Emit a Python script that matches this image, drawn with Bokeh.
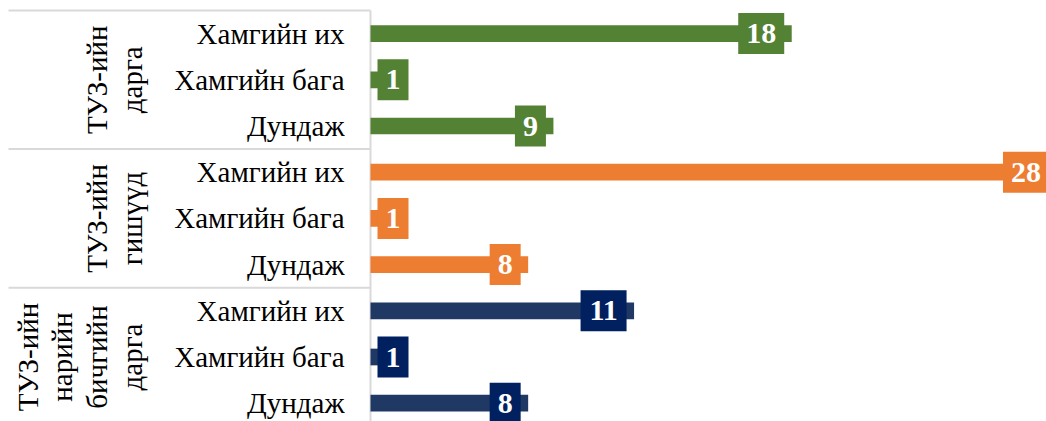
import math
from bokeh.plotting import figure
from bokeh.models import Range1d
from bokeh.embed import file_html
from bokeh.resources import INLINE
from bokeh.core.properties import value

# ---- data ----
categories = ["Хамгийн их", "Хамгийн бага", "Дундаж"]
group_lines = [
    ["ТУЗ-ийн", "дарга"],
    ["ТУЗ-ийн", "гишүүд"],
    ["ТУЗ-ийн", "нарийн", "бичгийн", "дарга"],
]
# bar lengths as drawn, and the numbers printed on the bars
chair_lengths = [17.5, 1.0, 7.6]
member_lengths = [28.5, 1.0, 6.55]
secretary_lengths = [10.95, 1.0, 6.55]
chair_labels = [18, 1, 9]
member_labels = [28, 1, 8]
secretary_labels = [11, 1, 8]

bar_colors = ["#548235", "#ED7D31", "#203864"]
box_colors = ["#548235", "#ED7D31", "#002060"]
sep_color = "#D9D9D9"

all_lengths = [chair_lengths, member_lengths, secretary_lengths]
all_labels = [chair_labels, member_labels, secretary_labels]

# ---- layout ----
W, H = 1046, 421
ROW_PX = 46.2
AXIS_PX = 370
TOP_PX = 10
PX_PER_UNIT = 24.07
x_start = -AXIS_PX / PX_PER_UNIT
x_end = (W - AXIS_PX) / PX_PER_UNIT
y_top = -0.5 - TOP_PX / ROW_PX
y_bottom = y_top + H / ROW_PX

p = figure(width=W, height=H, x_range=Range1d(x_start, x_end),
           y_range=Range1d(y_bottom, y_top),
           x_axis_type=None, y_axis_type=None,
           output_backend="svg", toolbar_location=None, min_border=0)
p.grid.visible = False
p.outline_line_color = None
p.background_fill_color = "white"

n_cat = len(categories)
n_grp = len(group_lines)

# separators (top border + between groups) across the label area
sep_y = [g * n_cat - 0.5 for g in range(n_grp)]
p.segment(x0=[x_start + 8 / PX_PER_UNIT] * len(sep_y), y0=sep_y,
          x1=[0] * len(sep_y), y1=sep_y, line_color=sep_color, line_width=2)
# vertical axis line
p.segment(x0=[0], y0=[-0.5], x1=[0], y1=[y_bottom], line_color=sep_color, line_width=2)

serif = value("Liberation Serif")

for g in range(n_grp):
    rows = [g * n_cat + c for c in range(n_cat)]
    p.hbar(y=rows, left=0, right=all_lengths[g], height=16.7 / ROW_PX,
           fill_color=bar_colors[g], line_color=None)
    # label boxes
    cxs, ws, txts = [], [], []
    for L, lab in zip(all_lengths[g], all_labels[g]):
        s = str(lab)
        w_px = 16 + 15 * len(s)
        end_px = L * PX_PER_UNIT
        right_px = max(end_px - 7.5, 7 + w_px)
        cxs.append((right_px - w_px / 2) / PX_PER_UNIT)
        ws.append(w_px)
        txts.append(s)
    p.rect(x=cxs, y=rows, width=ws, height=41, width_units="screen",
           height_units="screen", fill_color=box_colors[g], line_color=None)
    p.text(x=cxs, y=rows, text=txts, text_color="white", text_font=serif,
           text_font_style="bold", text_font_size="30px",
           text_align="center", text_baseline="middle")
    # category labels
    p.text(x=[0] * n_cat, y=rows, text=categories, x_offset=-26,
           text_color="black", text_font=serif, text_font_size="29px",
           text_align="right", text_baseline="middle")
    # group label (rotated, one glyph per line)
    lines = group_lines[g]
    n = len(lines)
    offs = [-238.5 - (n - 1 - j) * 34.8 for j in range(n)]
    p.text(x=[0] * n, y=[g * n_cat + (n_cat - 1) / 2] * n, text=lines,
           x_offset=offs, angle=math.pi / 2, text_color="black",
           text_font=serif, text_font_size="29px",
           text_align="center", text_baseline="middle")

open("out.html", "w").write(file_html(p, INLINE))
